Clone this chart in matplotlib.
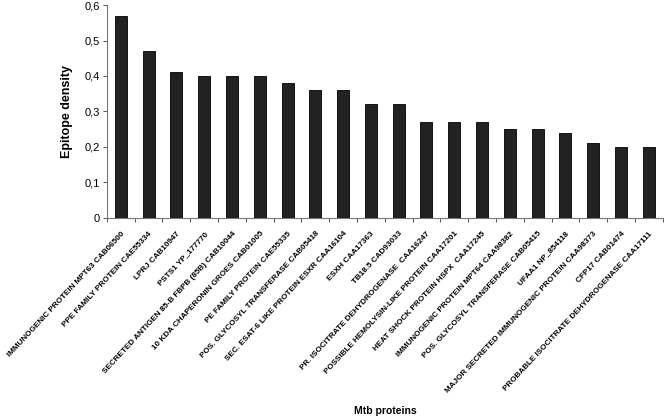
import matplotlib
matplotlib.use("Agg")
import matplotlib.pyplot as plt
import numpy as np

plt.rcParams['font.family'] = ['Liberation Sans', 'DejaVu Sans']

proteins = [
    "IMMUNOGENIC PROTEIN MPT63 CAB06500",
    "PPE FAMILY PROTEIN CAE55334",
    "LPRJ CAB10947",
    "PSTS1 YP_177770",
    "SECRETED ANTIGEN 85-B FBPB (85B) CAB10044",
    "10 KDA CHAPERONIN GROES CAB01005",
    "PE FAMILY PROTEIN CAE55335",
    "POS. GLYCOSYL TRANSFERASE CAB05418",
    "SEC. ESAT-6 LIKE PROTEIN ESXR CAA16104",
    "ESXH CAA17363",
    "TB18.5 CAD93033",
    "PR. ISOCITRATE DEHYDROGENASE  CAA16247",
    "POSSIBLE HEMOLYSIN-LIKE PROTEIN CAA17201",
    "HEAT SHOCK PROTEIN HSPX  CAA17245",
    "IMMUNOGENIC PROTEIN MPT64 CAA98382",
    "POS. GLYCOSYL TRANSFERASE CAB05415",
    "UFAA1 NP_854118",
    "MAJOR SECRETED IMMUNOGENIC PROTEIN CAA98373",
    "CFP17 CAB01474",
    "PROBABLE ISOCITRATE DEHYDROGENASE CAA17111",
]
density = [0.57, 0.47, 0.41, 0.40, 0.40, 0.40, 0.38, 0.36, 0.36, 0.32,
           0.32, 0.27, 0.27, 0.27, 0.25, 0.25, 0.24, 0.21, 0.20, 0.20]
yticks = [0, 0.1, 0.2, 0.3, 0.4, 0.5, 0.6]
ytick_labels = ["0", "0,1", "0,2", "0,3", "0,4", "0,5", "0,6"]

fig = plt.figure(figsize=(6.64, 4.19), dpi=100)
ax = fig.add_axes([0.161, 0.480, 0.837, 0.508])

x = np.arange(len(proteins))
ax.bar(x, density, width=0.43, color='#222222', edgecolor='black', linewidth=0.6, zorder=3)

ax.set_xlim(-0.5, len(proteins) - 0.5)
ax.set_ylim(0, 0.6)
ax.set_yticks(yticks)
ax.set_yticklabels(ytick_labels, fontsize=8)

# ticks between categories
ax.set_xticks(np.arange(-0.5, len(proteins), 1.0))
ax.set_xticklabels([])
ax.tick_params(axis='x', direction='out', length=3, width=0.7, color='#555555')
ax.tick_params(axis='y', direction='out', length=3, width=0.7, color='#555555', pad=2)

for i, name in enumerate(proteins):
    ax.text(i, -0.035, name, rotation=47, ha='right', va='top',
            rotation_mode='anchor', fontsize=5.9, fontweight='bold',
            transform=ax.transData, clip_on=False)

for s in ['top', 'right']:
    ax.spines[s].set_visible(False)
for s in ['left', 'bottom']:
    ax.spines[s].set_color('#777777')
    ax.spines[s].set_linewidth(0.8)

ax.set_ylabel("Epitope density", fontsize=9, fontweight='bold', labelpad=8)
fig.text(0.58, 0.018, "Mtb proteins", ha='center', va='center', fontsize=7.5, fontweight='bold')

fig.savefig("out.png", dpi=100)
